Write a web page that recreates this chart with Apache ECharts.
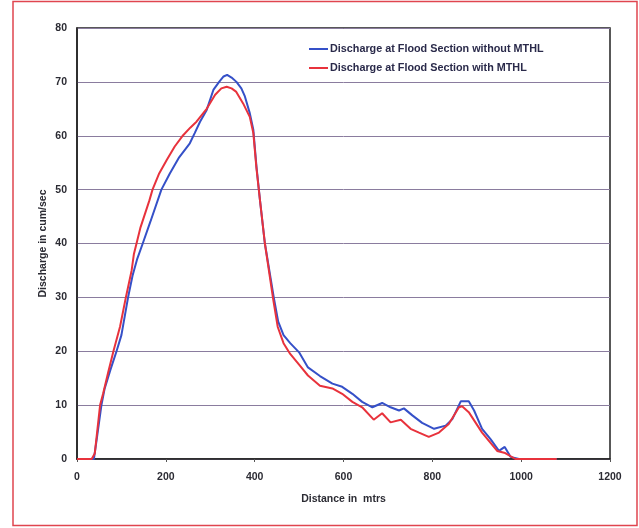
<!DOCTYPE html>
<html>
<head>
<meta charset="utf-8">
<script src="https://cdn.jsdelivr.net/npm/echarts@6/dist/echarts.min.js"></script>
<style>
  html, body { margin: 0; padding: 0; background: #ffffff; }
  #chart { width: 639px; height: 528px; }
</style>
</head>
<body>
<div id="chart"></div>
<script>
// Discharge at the flood section, without MTHL (distance in m, discharge in cum/sec)
const withoutDist = [0, 38, 45, 55, 62, 75, 89, 100, 115, 125, 135, 148, 165, 190, 209, 230, 254, 265, 277, 292, 307, 320, 330, 338, 348, 359, 370, 378, 389, 397, 404, 412, 423, 443, 453, 465, 480, 500, 520, 547, 575, 597, 620, 642, 665, 687, 706, 725, 736, 755, 777, 804, 830, 845, 864, 882, 894, 912, 931, 950, 963, 976, 995, 1080];
const withoutQ = [0, 0, 4, 10, 13, 16.5, 20, 23, 30, 34, 37, 40, 44, 50, 53, 56, 58.6, 60.5, 62.6, 64.8, 68.5, 70, 71, 71.3, 70.8, 70, 68.8, 67.3, 64.2, 61.1, 54.3, 48, 40, 30, 25.5, 23, 21.5, 19.8, 17, 15.4, 14, 13.4, 12.1, 10.6, 9.6, 10.4, 9.6, 9.0, 9.4, 8.1, 6.7, 5.6, 6.2, 7.4, 10.7, 10.7, 9.0, 5.6, 3.7, 1.5, 2.25, 0.4, 0, 0];

// Discharge at the flood section, with MTHL
const withDist = [0, 33, 40, 52, 59, 70, 82, 97, 110, 123, 128, 134, 143, 163, 170, 185, 202, 220, 239, 255, 269, 292, 311, 325, 337, 348, 358, 374, 389, 397, 404, 412, 423, 442, 452, 465, 480, 500, 520, 547, 575, 597, 620, 642, 668, 687, 706, 729, 751, 770, 792, 815, 837, 860, 867, 882, 912, 946, 964, 987, 1080];
const withQ = [0, 0, 1, 10, 12.2, 16, 20, 24.6, 30, 35, 38, 40, 43, 48, 50, 53, 55.5, 58, 60.1, 61.5, 62.6, 65, 67.6, 68.8, 69.1, 68.8, 68.2, 66, 63.5, 60.5, 54, 48, 40, 29.5, 24.5, 21.5, 19.5, 17.5, 15.5, 13.6, 13.1, 12.1, 10.6, 9.6, 7.3, 8.5, 6.8, 7.3, 5.6, 4.9, 4.1, 4.9, 6.5, 9.6, 9.8, 8.7, 4.9, 1.5, 1.1, 0, 0];

const seriesNames = ['Discharge at Flood Section without MTHL', 'Discharge at Flood Section with MTHL'];
const xTitle = 'Distance in  mtrs';
const yTitle = 'Discharge in cum/sec';

const pairs = (xs, ys) => xs.map((x, i) => [x, ys[i]]);

const labelFont = { fontFamily: 'Liberation Sans, Arial, sans-serif', fontWeight: 'bold', fontSize: 10.5, color: '#2b2b33' };

const chart = echarts.init(document.getElementById('chart'), null, { renderer: 'canvas' });
chart.setOption({
  backgroundColor: '#ffffff',
  animation: false,
  graphic: [{
    type: 'rect',
    shape: { x: 13, y: 1.5, width: 624, height: 524 },
    style: { fill: 'none', stroke: '#e0454f', lineWidth: 1.5 },
    silent: true
  }],
  grid: {
    left: 77, top: 28, right: 29, bottom: 69,
    show: true, borderColor: '#222222', borderWidth: 1.5, backgroundColor: 'transparent'
  },
  legend: {
    orient: 'vertical',
    left: 304, top: 38,
    icon: 'rect',
    itemWidth: 19, itemHeight: 2, itemGap: 7,
    textStyle: { fontFamily: 'Liberation Sans, Arial, sans-serif', fontWeight: 'bold', fontSize: 10.8, color: '#2a2a4a', padding: [0, 0, 0, -3], lineHeight: 12 },
    data: seriesNames
  },
  xAxis: {
    type: 'value', min: 0, max: 1200, interval: 200,
    name: xTitle, nameLocation: 'middle', nameGap: 35, nameMoveOverlap: false,
    nameTextStyle: labelFont,
    axisLine: { show: true, lineStyle: { color: '#222222', width: 1.5 } },
    axisTick: { show: true, length: 3, lineStyle: { color: '#555555' } },
    axisLabel: Object.assign({ margin: 13, formatter: (v) => String(v) }, labelFont),
    splitLine: { show: false }
  },
  yAxis: {
    type: 'value', min: 0, max: 80, interval: 10,
    name: yTitle, nameLocation: 'middle', nameGap: 28, nameRotate: 90, nameMoveOverlap: false,
    nameTextStyle: labelFont,
    axisLine: { show: true, lineStyle: { color: '#222222', width: 1.5 } },
    axisTick: { show: false },
    axisLabel: Object.assign({ margin: 10, formatter: (v) => String(v) }, labelFont),
    splitLine: { show: true, lineStyle: { color: '#8a7c9e', width: 1 } }
  },
  series: [
    {
      name: seriesNames[0], type: 'line', data: pairs(withoutDist, withoutQ),
      symbol: 'none', smooth: false, z: 3,
      lineStyle: { color: '#3550c8', width: 2 }, itemStyle: { color: '#3550c8' }
    },
    {
      name: seriesNames[1], type: 'line', data: pairs(withDist, withQ),
      symbol: 'none', smooth: false, z: 4,
      lineStyle: { color: '#e8323c', width: 2 }, itemStyle: { color: '#e8323c' }
    }
  ]
});
</script>
</body>
</html>
